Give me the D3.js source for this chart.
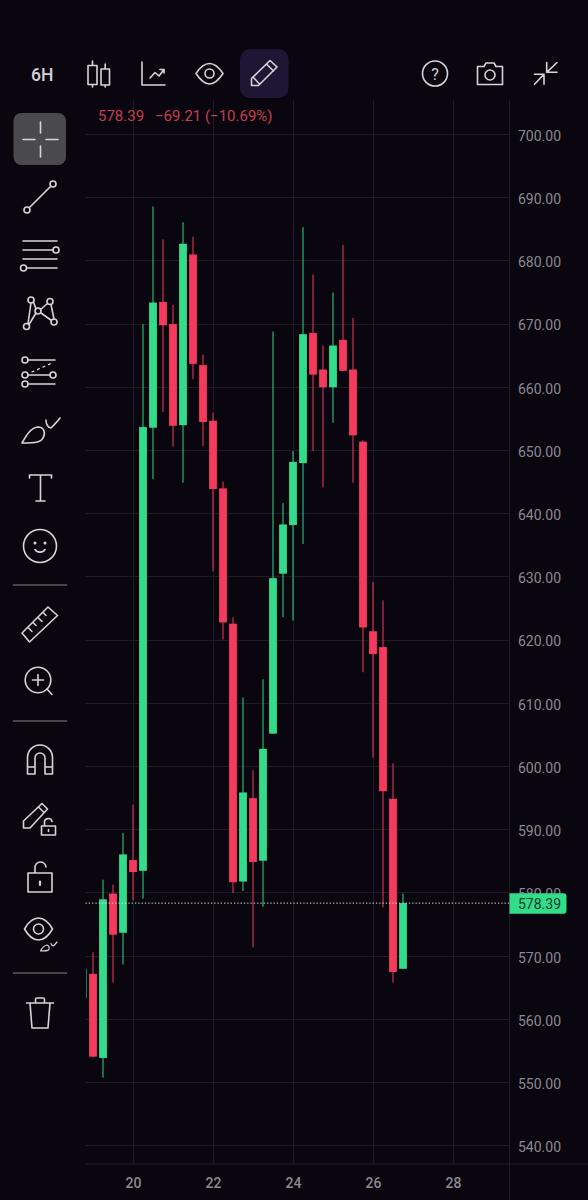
<!DOCTYPE html>
<html><head><meta charset="utf-8">
<script src="https://cdn.jsdelivr.net/npm/d3@7/dist/d3.min.js"></script>
<style>html,body{margin:0;padding:0;background:#0a0610;overflow:hidden}svg{display:block}text{font-family:Roboto,sans-serif}</style>
</head><body><div id="chart"></div>
<script>
// --- data (day of month, 6H candles) ---
const times=[18.75,19,19.25,19.5,19.75,20,20.25,20.5,20.75,21,21.25,21.5,21.75,22,22.25,22.5,22.75,23,23.25,23.5,23.75,24,24.25,24.5,24.75,25,25.25,25.5,25.75,26,26.25,26.5,26.75];
const opens=[563.4,567.2,553.9,579.9,573.7,585.2,583.5,653.6,673.5,670,654,681,663.5,654.7,644,622.6,581.8,595,585.1,605.2,630.5,638.2,648,668.6,662.8,660,667.5,662.8,651.4,621.4,618.9,594.9,568];
const highs=[568,570.6,582.1,581.3,589.5,594,670,688.6,683.4,673,686.1,683.8,665.2,656,645.1,623.6,610.9,599.4,613.8,668.8,641.7,649.9,685.3,677.8,666.6,675,682.5,671,651.6,629.2,626.3,600.5,579.9];
const lows=[563.4,554,550.8,565.8,568.7,578.8,579.1,645.5,656.1,650.6,644.9,661.3,650.7,630.9,620.1,580,580.3,571.4,577.8,605.2,623.6,623.1,635.2,649.9,644.2,654.4,662.6,644.9,614.9,601.4,577.7,565.8,568];
const closes=[568,554.1,579,573.4,586.1,583.3,653.7,673.4,669.8,653.9,682.7,663.7,654.5,643.9,622.8,581.7,595.9,584.9,602.8,629.8,638.3,648.2,668.4,662,660,666.6,662.6,652.4,622,617.8,596.1,567.5,578.39];
const priceTicks=[700,690,680,670,660,650,640,630,620,610,600,590,580,570,560,550,540];
const dayTicks=[20,22,24,26,28];
const lastPrice=578.39;
const headerPrice="578.39";
const headerChange="\u221269.21 (\u221210.69%)";

// --- colours ---
const BG="#0a0610",GRID="#201a26",UP="#33dc8b",DOWN="#f53a5e",ICON="#d6d4da",AXIS="#8c8992";

const W=588,H=1200,plotL=85.5,plotR=509.5,plotT=100,plotB=1164;
const x=d3.scaleLinear().domain([20,28]).range([133,453]);
const y=d3.scaleLinear().domain([700,540]).range([134.4,1145.8]);

const svg=d3.select("#chart").append("svg").attr("width",W).attr("height",H).attr("viewBox",`0 0 ${W} ${H}`);
svg.append("rect").attr("width",W).attr("height",H).attr("fill",BG);
svg.append("defs").append("clipPath").attr("id","plot").append("rect")
  .attr("x",86).attr("y",plotT).attr("width",plotR-86).attr("height",plotB-plotT);

// grid
const grid=svg.append("g").attr("stroke",GRID).attr("stroke-width",1);
grid.selectAll(".h").data(priceTicks).join("line").attr("x1",plotL).attr("x2",plotR)
  .attr("y1",d=>Math.floor(y(d))+.5).attr("y2",d=>Math.floor(y(d))+.5);
grid.selectAll(".v").data(dayTicks).join("line").attr("y1",plotT).attr("y2",plotB)
  .attr("x1",d=>Math.round(x(d))+.5).attr("x2",d=>Math.round(x(d))+.5);
grid.append("line").attr("x1",plotL).attr("x2",W).attr("y1",plotB).attr("y2",plotB);
grid.append("line").attr("x1",plotR).attr("x2",plotR).attr("y1",plotT).attr("y2",H);

// axes
const yAxis=svg.append("g").attr("transform",`translate(${plotR},0)`)
  .call(d3.axisRight(y).tickValues(priceTicks).tickFormat(d3.format(".2f")).tickSize(0).tickPadding(8.5));
yAxis.select(".domain").remove();
yAxis.selectAll("text").attr("fill",AXIS).style("font-size","14px").attr("dy","0.42em");
const xAxis=svg.append("g").attr("transform",`translate(0,${plotB})`)
  .call(d3.axisBottom(x).tickValues(dayTicks).tickFormat(d3.format("d")).tickSize(0).tickPadding(14.5));
xAxis.select(".domain").remove();
xAxis.selectAll("text").attr("fill",AXIS).style("font-size","14px").style("font-weight","500");

// candles
const candles=times.map((t,i)=>({t,o:opens[i],h:highs[i],l:lows[i],c:closes[i]}));
const gc=svg.append("g").attr("clip-path","url(#plot)");
const col=d=>d.c>=d.o?UP:DOWN;
gc.selectAll(".wick").data(candles).join("line").attr("class","wick")
  .attr("x1",d=>x(d.t)).attr("x2",d=>x(d.t)).attr("y1",d=>y(d.h)).attr("y2",d=>y(d.l))
  .attr("stroke",col).attr("stroke-width",1.3).attr("stroke-opacity",.75);
gc.selectAll(".body").data(candles).join("rect").attr("class","body")
  .attr("x",d=>x(d.t)-3.9).attr("width",7.8)
  .attr("y",d=>y(Math.max(d.o,d.c))).attr("height",d=>y(Math.min(d.o,d.c))-y(Math.max(d.o,d.c)))
  .attr("fill",col).attr("fill-opacity",d=>d===candles[0]?.6:1);

// last price line & tag
svg.append("line").attr("x1",plotL).attr("x2",plotR).attr("y1",y(lastPrice)).attr("y2",y(lastPrice))
  .attr("stroke","#cfeee0").attr("stroke-width",1).attr("stroke-dasharray","1.3 2");
svg.append("path").attr("fill",UP)
  .attr("d",(()=>{const t=y(lastPrice)-10,b=y(lastPrice)+10.5,l=plotR,r=566.5;
    return `M${l} ${t}H${r-3}Q${r} ${t} ${r} ${t+3}V${b-3}Q${r} ${b} ${r-3} ${b}H${l}Z`;})());
svg.append("text").attr("x",518).attr("y",y(lastPrice)).attr("dy","0.42em").attr("fill","#0c3a27")
  .style("font-size","14px").text(d3.format(".2f")(lastPrice));

// header
svg.append("text").attr("x",98).attr("y",121).attr("fill","#c2404f").style("font-size","15px").text(headerPrice);
svg.append("text").attr("x",155).attr("y",121).attr("fill","#c2404f").style("font-size","15px").text(headerChange);

// --- chrome: toolbar icons ---
const ic=svg.append("g").attr("fill","none").attr("stroke",ICON).attr("stroke-width",1.6).attr("stroke-linejoin","round").attr("stroke-linecap","round");
const P=(d,o={})=>{const e=ic.append("path").attr("d",d);Object.entries(o).forEach(([k,v])=>e.attr(k,v));return e;};
const C=(cx,cy,r,o={})=>{const e=ic.append("circle").attr("cx",cx).attr("cy",cy).attr("r",r);Object.entries(o).forEach(([k,v])=>e.attr(k,v));return e;};

svg.insert("rect","g").attr("x",240).attr("y",49).attr("width",48.5).attr("height",49).attr("rx",10).attr("fill","#1f1636");
svg.insert("rect","g").attr("x",13.5).attr("y",113).attr("width",52.5).attr("height",52).attr("rx",8).attr("fill","#4a4a4c");

svg.append("text").attr("x",31).attr("y",80.5).attr("fill","#d2d0d8").style("font-size","17.5px").style("font-weight","500").text("6H");
// candles icon
P("M88 65.5H97V84.5H88ZM92.5 61V65.5M92.5 84.5V87M101 69H109.5V85H101ZM105.2 64V69M105.2 85V87");
// chart icon
P("M142 62V85H165M150 78L155 72.5L159 76L164 69.5M160 69.5H164V73");
// eye
P("M196 73.5C201 66 205 63.5 209.5 63.5C214 63.5 218 66 223 73.5C218 81 214 84 209.5 84C205 84 201 81 196 73.5Z");C(209.5,73.5,4.5);
// pencil
P("M251.5 85.5V78.5L270 60.5L277 67L258.5 85.5ZM266.5 64L273.5 71M253 77L259.5 84");
// crosshair
P("M23 139.5H35M46 139.5H58M40.5 122V133M40.5 146V157");
// line
P("M29.2 207.8L50.8 186.2");C(27,210,3);C(53,184,3);
// parallel lines
P("M23 241H57M23 250H53M23 259H57M27 268H57");C(56,250,3);C(23.5,268,3);
// nodes
P("M31 303L28 323.5M33.5 302L36 309M47.5 303.5L40.5 309.5M51 304.5L54 319M41 313L51.5 320.5M36 313L29 324.5");
C(31,300,3);C(50,301.5,3);C(38,311,3);C(54,322,3);C(26.5,326.5,3);
// fib
P("M28 360H55M28 375H50M28 384H55");C(25,360,3);C(25,375,3);C(53,375,3);C(25,384,3);
P("M32 372L52 363",{"stroke-dasharray":"2 4","stroke-width":1.3});
// brush
P("M22 443C26 436 30 428 38 427C44 427 46 433 43 438C41 442 37 443 22 443Z");
P("M46 420C46 424 48 428 51 428C54 425 57 422 60 418");
// T
P("M29.5 478V475H51.5V478M40.5 475V501M36 501H45");
// smile
C(40,546,16.5);C(35,543,.7);C(45,543,.7);P("M35 549.5C37 553 43 553 45 549.5");
// dividers
const div=svg.append("g").attr("stroke","#5c5a60").attr("stroke-width",1.3);
[585,721,973].forEach(v=>div.append("line").attr("x1",13).attr("x2",67).attr("y1",v).attr("y2",v));
// ruler
P("M22 633L48 607L57.5 615.5L29.5 642ZM28 627.5L32 631.5M33 622.5L36 625.5M38 617.5L42 621.5M43 612.5L46 615.5");
// zoom
C(38,680,12.8);P("M47 689L52 694.5M38 674.5V685.5M32.5 680H43.5");
// magnet
P("M27.5 774V757.5A12.5 12.5 0 0 1 52.5 757.5V774H45V758A5 5 0 0 0 35 758V774ZM27.5 767H35M45 767H52.5");
// pencil + lock
P("M23.5 828V821L42 803.5L47.5 809L30 828ZM38.5 807L44 812.5");
P("M41.5 826H55.5V835H41.5ZM44.5 826V822.5A3.8 3.8 0 0 1 52 821.5M48.5 829.5V831.5");
// unlock
P("M28 873H52V892H28ZM35 873V868A5.5 5.5 0 0 1 46 867");P("M40 881.5V885",{"stroke-width":2.2});
// eye + brush
P("M24.5 929C29 921 34 918 38.5 918C43 918 48 921 52.5 929C48 937 43 940 38.5 940C34 940 29 937 24.5 929Z");C(38.5,929,5);
P("M40.5 951C42 948 44 945.5 47 945C49 945.5 50 948 48.5 950C47.5 951 45 951 40.5 951ZM51 943.5C51.5 945 52 946 53.5 946L57 942",{"stroke-width":1.2});
// trash
P("M26.5 1003H53.5M30 1003L32 1028H48L50 1003M35.5 1003V999.5Q35.5 998 37 998H43Q44.5 998 44.5 999.5V1003");
// help
C(435,73.5,12.5);
svg.append("text").attr("x",435).attr("y",79.5).attr("text-anchor","middle").attr("fill",ICON).style("font-size","16px").text("?");
// camera
P("M477.5 66.5H484L486 63H494L496 66.5H502.5V84.5H477.5Z");C(490,75,5);
// collapse
P("M534.5 84.3L544 74.3M534.5 74.3H544V84.3M557 62.5L546.7 72.3M546.7 62.5V72.3H557");
</script>
</body></html>
